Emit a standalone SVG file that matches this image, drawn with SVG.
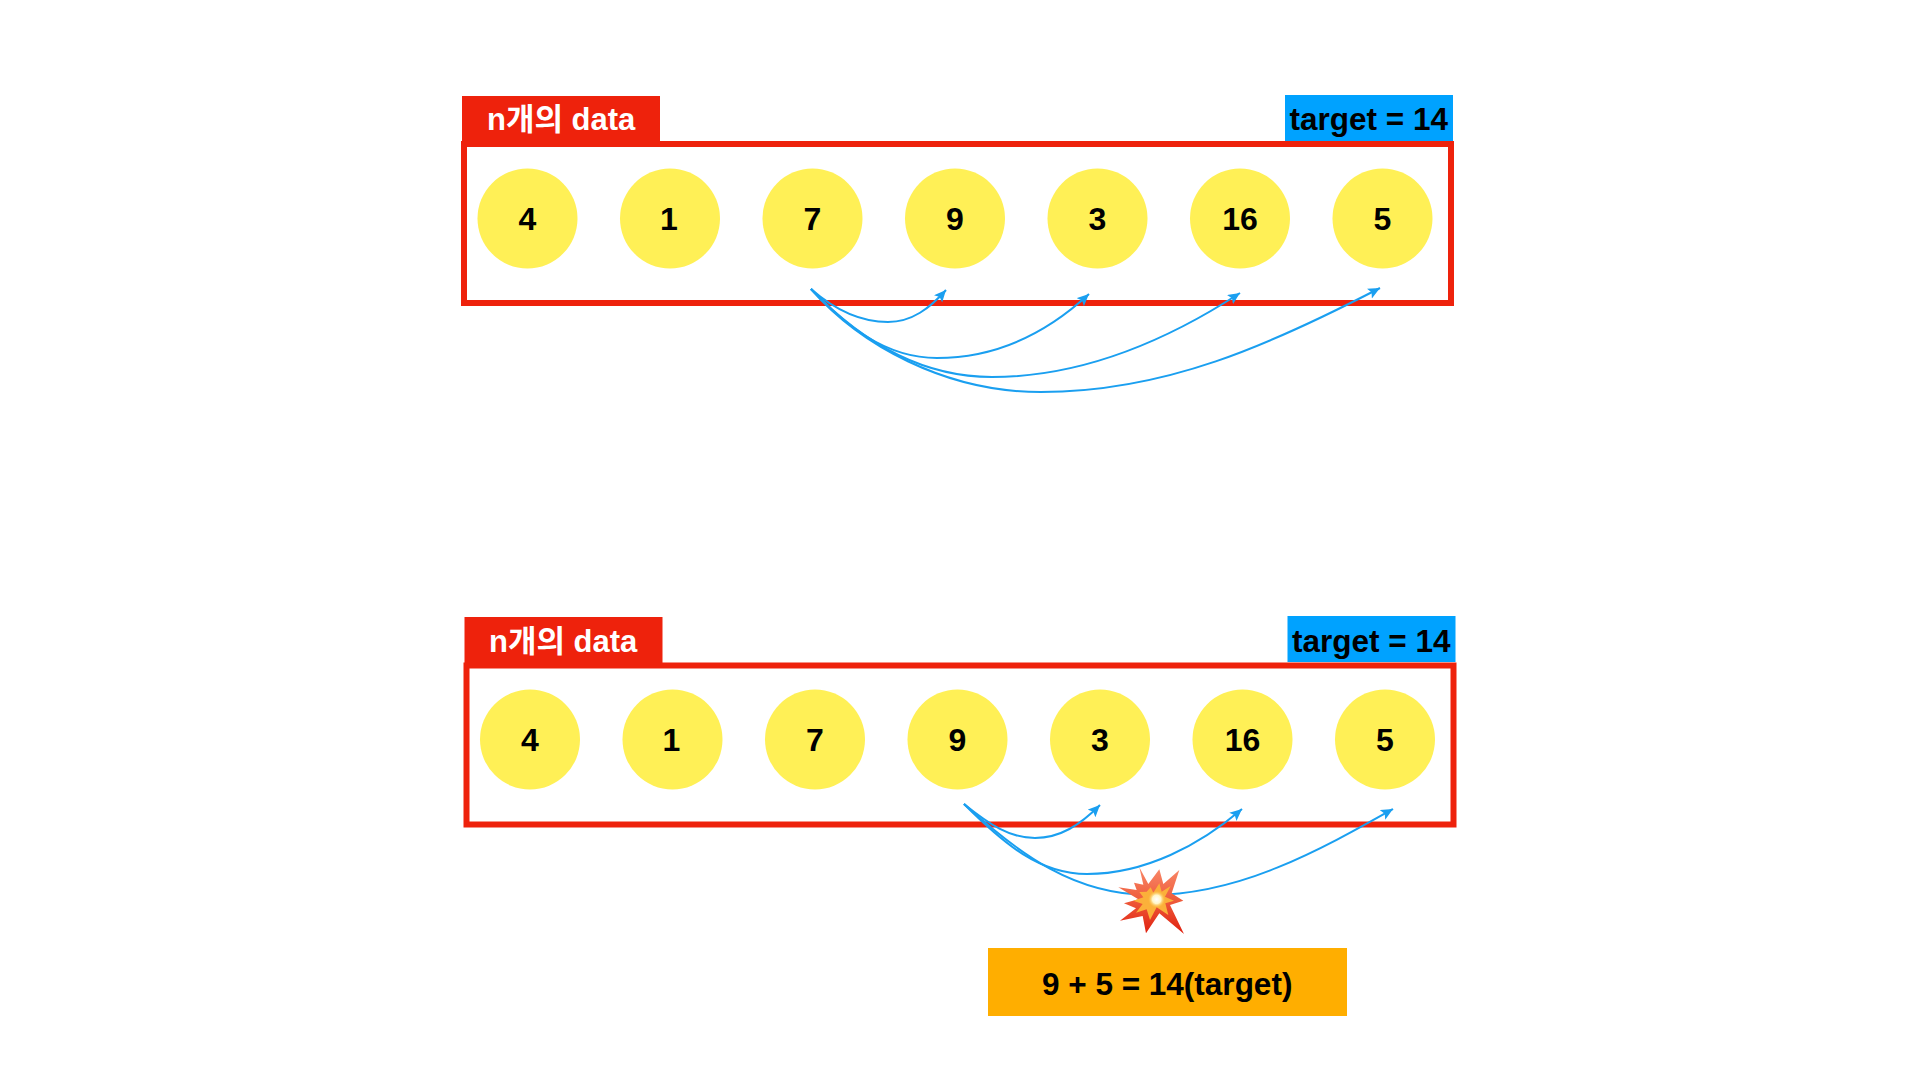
<svg xmlns="http://www.w3.org/2000/svg" width="1920" height="1080" viewBox="0 0 1920 1080">
<defs>
<style>
.frame{fill:none;stroke:#ee220c;stroke-width:6}
.tab{fill:#ee220c}
.tgt{fill:#00a2ff}
.c{fill:#fff056}
.t{font-family:"Liberation Sans","Noto Sans CJK KR",sans-serif;font-weight:700;fill:#000}
.n{font-size:32px;text-anchor:middle}
.l{font-size:31.500px}
.k{font-size:31px;fill:#fff}
.a{fill:none;stroke:#1a9ff0;stroke-width:2;marker-end:url(#ah)}
</style>
<marker id="ah" markerUnits="userSpaceOnUse" markerWidth="15" markerHeight="13" refX="12" refY="5.500" orient="auto"><path d="M0 0L12 5.500L0 11L2.500 5.500Z" fill="#1a9ff0"/></marker>
<linearGradient id="bl" x1="0" y1="0" x2="0" y2="1"><stop offset="0" stop-color="#f98a6a"/><stop offset=".5" stop-color="#ee5a3a"/><stop offset="1" stop-color="#e0200f"/></linearGradient>
<radialGradient id="core"><stop offset="0" stop-color="#fff"/><stop offset=".5" stop-color="#fff6c8"/><stop offset="1" stop-color="#fcc23a" stop-opacity="0"/></radialGradient>
</defs>
<rect width="1920" height="1080" fill="#fff"/>
<g id="panel-1">
<rect class="tab" x="462" y="96" width="198" height="46"/>
<rect class="tgt" x="1285" y="95" width="168" height="46"/>
<rect class="frame" x="464" y="144" width="987" height="159"/>
<text class="t k" x="487" y="130">n개의 data</text>
<text class="t l" x="1289.500" y="130">target = 14</text>
</g>
<g id="p1-n1"><circle class="c" cx="527.500" cy="218.500" r="50"/><text class="t n" x="527.500" y="230">4</text></g>
<g id="p1-n2"><circle class="c" cx="670" cy="218.500" r="50"/><text class="t n" x="669" y="230">1</text></g>
<g id="p1-n3"><circle class="c" cx="812.500" cy="218.500" r="50"/><text class="t n" x="812.500" y="230">7</text></g>
<g id="p1-n4"><circle class="c" cx="955" cy="218.500" r="50"/><text class="t n" x="955" y="230">9</text></g>
<g id="p1-n5"><circle class="c" cx="1097.500" cy="218.500" r="50"/><text class="t n" x="1097.500" y="230">3</text></g>
<g id="p1-n6"><circle class="c" cx="1240" cy="218.500" r="50"/><text class="t n" x="1240" y="230">16</text></g>
<g id="p1-n7"><circle class="c" cx="1382.500" cy="218.500" r="50"/><text class="t n" x="1382.500" y="230">5</text></g>
<g id="panel-2">
<rect class="tab" x="464.500" y="617" width="198" height="46"/>
<rect class="tgt" x="1287.500" y="616" width="168" height="46"/>
<rect class="frame" x="466.500" y="665.500" width="987" height="159"/>
<text class="t k" x="489" y="651.500">n개의 data</text>
<text class="t l" x="1292" y="651.500">target = 14</text>
</g>
<g id="p2-n1"><circle class="c" cx="530" cy="739.500" r="50"/><text class="t n" x="530" y="750.500">4</text></g>
<g id="p2-n2"><circle class="c" cx="672.500" cy="739.500" r="50"/><text class="t n" x="671.500" y="750.500">1</text></g>
<g id="p2-n3"><circle class="c" cx="815" cy="739.500" r="50"/><text class="t n" x="815" y="750.500">7</text></g>
<g id="p2-n4"><circle class="c" cx="957.500" cy="739.500" r="50"/><text class="t n" x="957.500" y="750.500">9</text></g>
<g id="p2-n5"><circle class="c" cx="1100" cy="739.500" r="50"/><text class="t n" x="1100" y="750.500">3</text></g>
<g id="p2-n6"><circle class="c" cx="1242.500" cy="739.500" r="50"/><text class="t n" x="1242.500" y="750.500">16</text></g>
<g id="p2-n7"><circle class="c" cx="1385" cy="739.500" r="50"/><text class="t n" x="1385" y="750.500">5</text></g>
<g id="connectors">
<path class="a" d="M811 289C835 310 860 322 888 322C912 322 930 308 946 290"/>
<path class="a" d="M811 289C845 325 885 358 937 358C1000 358 1050 330 1089 294"/>
<path class="a" d="M811 289C855 335 915 377 992 377C1075 377 1160 345 1240 293"/>
<path class="a" d="M811 289C860 345 945 392 1041 392C1165 392 1270 345 1380 288"/>
<path class="a" d="M964 804C990 825 1010 838 1035 838C1060 838 1080 825 1100 805"/>
<path class="a" d="M964 804C1005 845 1040 874 1087 874C1145 874 1200 845 1242 809"/>
<path class="a" d="M964 804C1020 855 1075 895 1150 895C1240 895 1320 850 1393 809"/>
</g>
<g id="explosion" transform="translate(1100 860) scale(.3333)">
<polygon fill="url(#bl)" points="118,22 145,72 178,28 190,72 238,30 215,100 250,122 210,135 252,222 178,160 138,220 128,168 60,182 108,145 72,130 115,118 55,82 110,90 102,68 130,74"/>
<polygon fill="#fbb03a" points="140,95 152,82 160,98 178,70 185,95 212,78 195,110 222,122 196,130 205,165 170,142 150,180 140,148 108,158 128,132 100,122 130,112 118,96"/>
<circle cx="170" cy="118" r="26" fill="url(#core)"/>
</g>
<g id="result"><rect x="988" y="948" width="359" height="68" fill="#ffae00"/><text class="t" x="1042" y="995" font-size="31.500px">9 + 5 = 14(target)</text></g>
</svg>
